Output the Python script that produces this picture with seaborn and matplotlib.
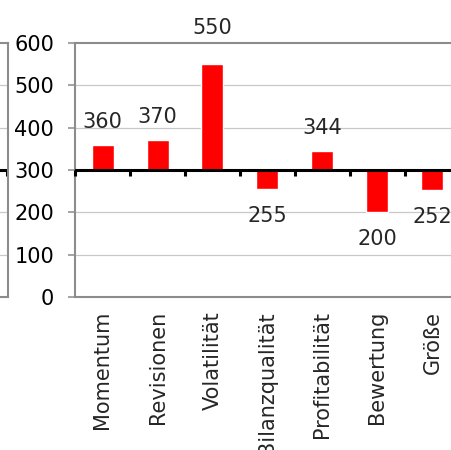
import matplotlib
matplotlib.use("Agg")
import matplotlib.pyplot as plt
import seaborn as sns
import pandas as pd

# Factor scores, centred on a neutral level of 300
categories = ["Momentum", "Revisionen", "Volatilität", "Bilanzqualität",
              "Profitabilität", "Bewertung", "Größe"]
scores = [360, 370, 550, 255, 344, 200, 252]
baseline = 300
y_ticks = [0, 100, 200, 300, 400, 500, 600]

sns.set_theme(style="white")
plt.rcParams["font.family"] = ["DejaVu Sans"]

W, H = 452, 450
fig = plt.figure(figsize=(W / 100, H / 100), dpi=100)

AXIS_GREY = "#8c8c8c"
GRID_GREY = "#c8c8c8"
FS = 15

def px_axes(left, top, right, bottom):
    return fig.add_axes([left / W, 1 - bottom / H, (right - left) / W, (bottom - top) / H])

# neighbouring panel, only its right edge is visible
left_ax = px_axes(-200, 43, 8, 297)
left_ax.set_xlim(0, 1)
left_ax.set_ylim(0, 600)
for yv in y_ticks[1:-1]:
    left_ax.axhline(yv, color=GRID_GREY, lw=0.9, zorder=0)
left_ax.axhline(baseline, color="black", lw=2.2, zorder=2)
left_ax.plot([0.995, 0.995], [baseline, baseline - 14], color="black", lw=2.2,
             solid_capstyle="butt", zorder=2)
left_ax.spines["left"].set_visible(False)
for s in ["right", "top", "bottom"]:
    left_ax.spines[s].set_color(AXIS_GREY)
    left_ax.spines[s].set_linewidth(1.5)
left_ax.set_xticks([])
left_ax.set_yticks([])
left_ax.patch.set_alpha(0)

# main panel
ax = px_axes(75, 43, 460, 297)
df = pd.DataFrame({"Faktor": categories,
                   "Abweichung": [s - baseline for s in scores]})
sns.barplot(data=df, x="Faktor", y="Abweichung", bottom=baseline,
            color="#ff0000", saturation=1, width=0.4, ax=ax, zorder=3)
ax.set_ylim(0, 600)
ax.set_xlim(-0.5, len(categories) - 0.5)
ax.set_yticks(y_ticks)
ax.set_yticklabels([str(t) for t in y_ticks], fontsize=FS, color="black")
ax.set_xlabel("")
ax.set_ylabel("")
for yv in y_ticks[1:-1]:
    ax.axhline(yv, color=GRID_GREY, lw=0.9, zorder=0)
ax.axhline(baseline, color="black", lw=2.2, zorder=4)
# category separators on the baseline axis
for i in range(len(categories) + 1):
    ax.plot([i - 0.5, i - 0.5], [baseline, baseline - 14], color="black",
            lw=2.2, zorder=4, clip_on=False, solid_capstyle="butt")
ax.spines["right"].set_visible(False)
for s in ["left", "top", "bottom"]:
    ax.spines[s].set_color(AXIS_GREY)
    ax.spines[s].set_linewidth(1.5)
ax.tick_params(axis="y", left=True, length=5, width=1.1, color=AXIS_GREY, pad=10)
ax.tick_params(axis="x", bottom=False, length=0, pad=10)
ax.set_xticks(range(len(categories)))
ax.set_xticklabels(categories, rotation=90, fontsize=FS, va="top", ha="center")
ax.patch.set_alpha(0)

# value labels
for i, v in enumerate(scores):
    if v >= baseline:
        off = 36 if v > 500 else 23
        ax.annotate(str(v), (i, v), xytext=(0, off), textcoords="offset pixels",
                    ha="center", va="center", fontsize=FS, annotation_clip=False)
    else:
        ax.annotate(str(v), (i, v), xytext=(0, -27), textcoords="offset pixels",
                    ha="center", va="center", fontsize=FS, annotation_clip=False)

fig.savefig("out.png", dpi=100)
